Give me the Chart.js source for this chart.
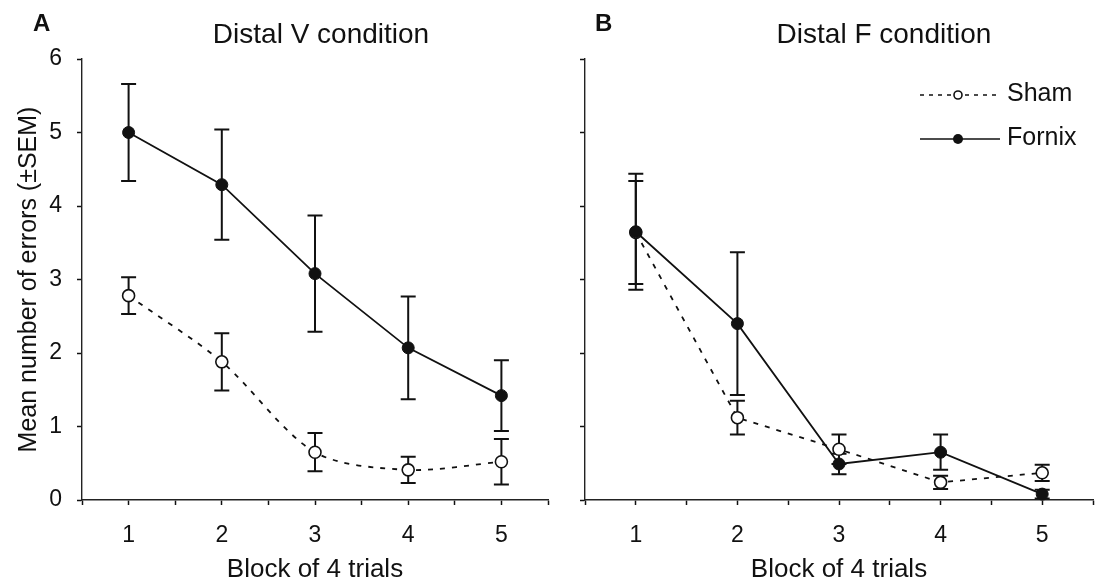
<!DOCTYPE html>
<html>
<head>
<meta charset="utf-8">
<script src="https://cdn.jsdelivr.net/npm/chart.js@4"></script>
<style>
html, body { margin: 0; padding: 0; background: #fff; overflow: hidden; }
#wrap { position: relative; width: 1099px; height: 588px; overflow: hidden; }
.panel { position: absolute; top: 0; height: 588px; }
#pa { left: 0; width: 565px; }
#pb { left: 565px; width: 545px; }
</style>
</head>
<body>
<div id="wrap">
  <div class="panel" id="pa"><canvas id="chartA"></canvas></div>
  <div class="panel" id="pb"><canvas id="chartB"></canvas></div>
</div>
<script>
const blocks = [1, 2, 3, 4, 5];

// Distal V condition
const fornixV = [5.0, 4.29, 3.08, 2.07, 1.42];
const fornixVsem = [0.66, 0.75, 0.79, 0.70, 0.48];
const shamV = [2.78, 1.88, 0.65, 0.41, 0.52];
const shamVsem = [0.25, 0.39, 0.26, 0.18, 0.31];

// Distal F condition
const fornixF = [3.65, 2.40, 0.49, 0.65, 0.08];
const fornixFsem = [0.79, 0.97, 0.14, 0.24, 0.06];
const shamF = [3.64, 1.12, 0.69, 0.24, 0.37];
const shamFsem = [0.70, 0.23, 0.20, 0.09, 0.11];

const FONT = '"Liberation Sans", Arial, Helvetica, sans-serif';
const INK = '#111';

function points(vals) {
    return blocks.map((b, i) => ({ x: b, y: vals[i] }));
}

// error bars (±SEM), drawn under the markers
const errorBars = {
    id: 'errorBars',
    beforeDatasetsDraw(chart) {
        const ctx = chart.ctx;
        const xs = chart.scales.x, ys = chart.scales.y;
        ctx.save();
        ctx.strokeStyle = INK;
        ctx.lineWidth = 2;
        chart.data.datasets.forEach(ds => {
            ds.data.forEach((p, i) => {
                const e = ds.errors[i];
                const px = xs.getPixelForValue(p.x);
                const top = ys.getPixelForValue(p.y + e);
                const bot = ys.getPixelForValue(p.y - e);
                ctx.beginPath();
                ctx.moveTo(px, top); ctx.lineTo(px, bot);
                ctx.moveTo(px - 7.5, top); ctx.lineTo(px + 7.5, top);
                ctx.moveTo(px - 7.5, bot); ctx.lineTo(px + 7.5, bot);
                ctx.stroke();
            });
        });
        ctx.restore();
    }
};

// panel letter, panel title and (right panel) legend
const decorations = {
    id: 'decorations',
    afterDraw(chart, args, opts) {
        const ctx = chart.ctx;
        ctx.save();
        ctx.fillStyle = INK;
        ctx.textBaseline = 'alphabetic';
        ctx.textAlign = 'left';
        ctx.font = 'bold 24px ' + FONT;
        ctx.fillText(opts.letter, opts.letterX, 31);
        ctx.textAlign = 'center';
        ctx.font = '28px ' + FONT;
        ctx.fillText(opts.title, opts.titleX, 43);

        if (opts.legend) {
            const x0 = 355, x1 = 435, cx = 393, tx = 442;
            ctx.strokeStyle = INK;
            ctx.lineWidth = 1.6;
            // Sham
            ctx.setLineDash([4, 5]);
            ctx.beginPath(); ctx.moveTo(x0, 95); ctx.lineTo(x1, 95); ctx.stroke();
            ctx.setLineDash([]);
            ctx.fillStyle = '#fff';
            ctx.beginPath(); ctx.arc(cx, 95, 4, 0, Math.PI * 2); ctx.fill(); ctx.stroke();
            // Fornix
            ctx.beginPath(); ctx.moveTo(x0, 139); ctx.lineTo(x1, 139); ctx.stroke();
            ctx.fillStyle = INK;
            ctx.beginPath(); ctx.arc(cx, 139, 5, 0, Math.PI * 2); ctx.fill();
            ctx.font = '25px ' + FONT;
            ctx.textAlign = 'left';
            ctx.textBaseline = 'middle';
            ctx.fillText('Sham', tx, 94);
            ctx.fillText('Fornix', tx, 138);
        }
        ctx.restore();
    }
};

function makeChart(id, fornix, fornixSem, sham, shamSem, o) {
    const ctx = document.getElementById(id).getContext('2d');
    return new Chart(ctx, {
        type: 'line',
        data: {
            datasets: [{
                label: 'Fornix',
                data: points(fornix),
                errors: fornixSem,
                borderColor: INK,
                borderWidth: 1.8,
                pointRadius: 6,
                pointBackgroundColor: INK,
                pointBorderColor: INK,
                pointBorderWidth: 1,
                tension: 0,
                clip: false
            }, {
                label: 'Sham',
                data: points(sham),
                errors: shamSem,
                borderColor: INK,
                borderWidth: 1.8,
                borderDash: [5, 7],
                pointRadius: 6,
                pointBackgroundColor: '#fff',
                pointBorderColor: INK,
                pointBorderWidth: 1.6,
                tension: o.shamTension,
                clip: false
            }]
        },
        plugins: [errorBars, decorations],
        options: {
            responsive: true,
            maintainAspectRatio: false,
            animation: false,
            devicePixelRatio: 1,
            layout: { padding: { top: 59, right: 8, bottom: 0, left: 0 } },
            plugins: {
                legend: { display: false },
                tooltip: { enabled: false },
                decorations: o.deco
            },
            scales: {
                x: {
                    type: 'linear',
                    min: 0.5,
                    max: 5.5,
                    afterFit: s => { s.height = 88; },
                    ticks: {
                        stepSize: 0.5,
                        autoSkip: false,
                        maxRotation: 0,
                        padding: 17,
                        color: INK,
                        font: { family: FONT, size: 23 },
                        callback: v => Number.isInteger(v) ? v : ''
                    },
                    grid: {
                        drawOnChartArea: false,
                        drawTicks: true,
                        tickLength: 5,
                        tickColor: INK,
                        tickWidth: 1.5
                    },
                    border: { display: true, color: '#222', width: 1.6 },
                    title: {
                        display: true,
                        text: 'Block of 4 trials',
                        color: INK,
                        font: { family: FONT, size: 26 },
                        padding: { top: 0, bottom: 3 }
                    }
                },
                y: {
                    min: 0,
                    max: 6,
                    afterFit: s => { s.width = o.yWidth; },
                    ticks: {
                        stepSize: 1,
                        padding: 15,
                        color: INK,
                        font: { family: FONT, size: 23 },
                        callback: v => o.yLabels ? v : ''
                    },
                    grid: {
                        drawOnChartArea: false,
                        drawTicks: true,
                        tickLength: 5,
                        tickColor: INK,
                        tickWidth: 1.5
                    },
                    border: { display: true, color: '#222', width: 1.4 },
                    title: {
                        display: o.yLabels,
                        text: 'Mean number of errors (±SEM)',
                        color: INK,
                        font: { family: FONT, size: 25 },
                        padding: { top: 14, bottom: 0 }
                    }
                }
            }
        }
    });
}

makeChart('chartA', fornixV, fornixVsem, shamV, shamVsem, {
    shamTension: 0.3,
    yWidth: 82,
    yLabels: true,
    deco: { letter: 'A', letterX: 33, title: 'Distal V condition', titleX: 321, legend: false }
});

makeChart('chartB', fornixF, fornixFsem, shamF, shamFsem, {
    shamTension: 0,
    yWidth: 20,
    yLabels: false,
    deco: { letter: 'B', letterX: 30, title: 'Distal F condition', titleX: 319, legend: true }
});
</script>
</body>
</html>
